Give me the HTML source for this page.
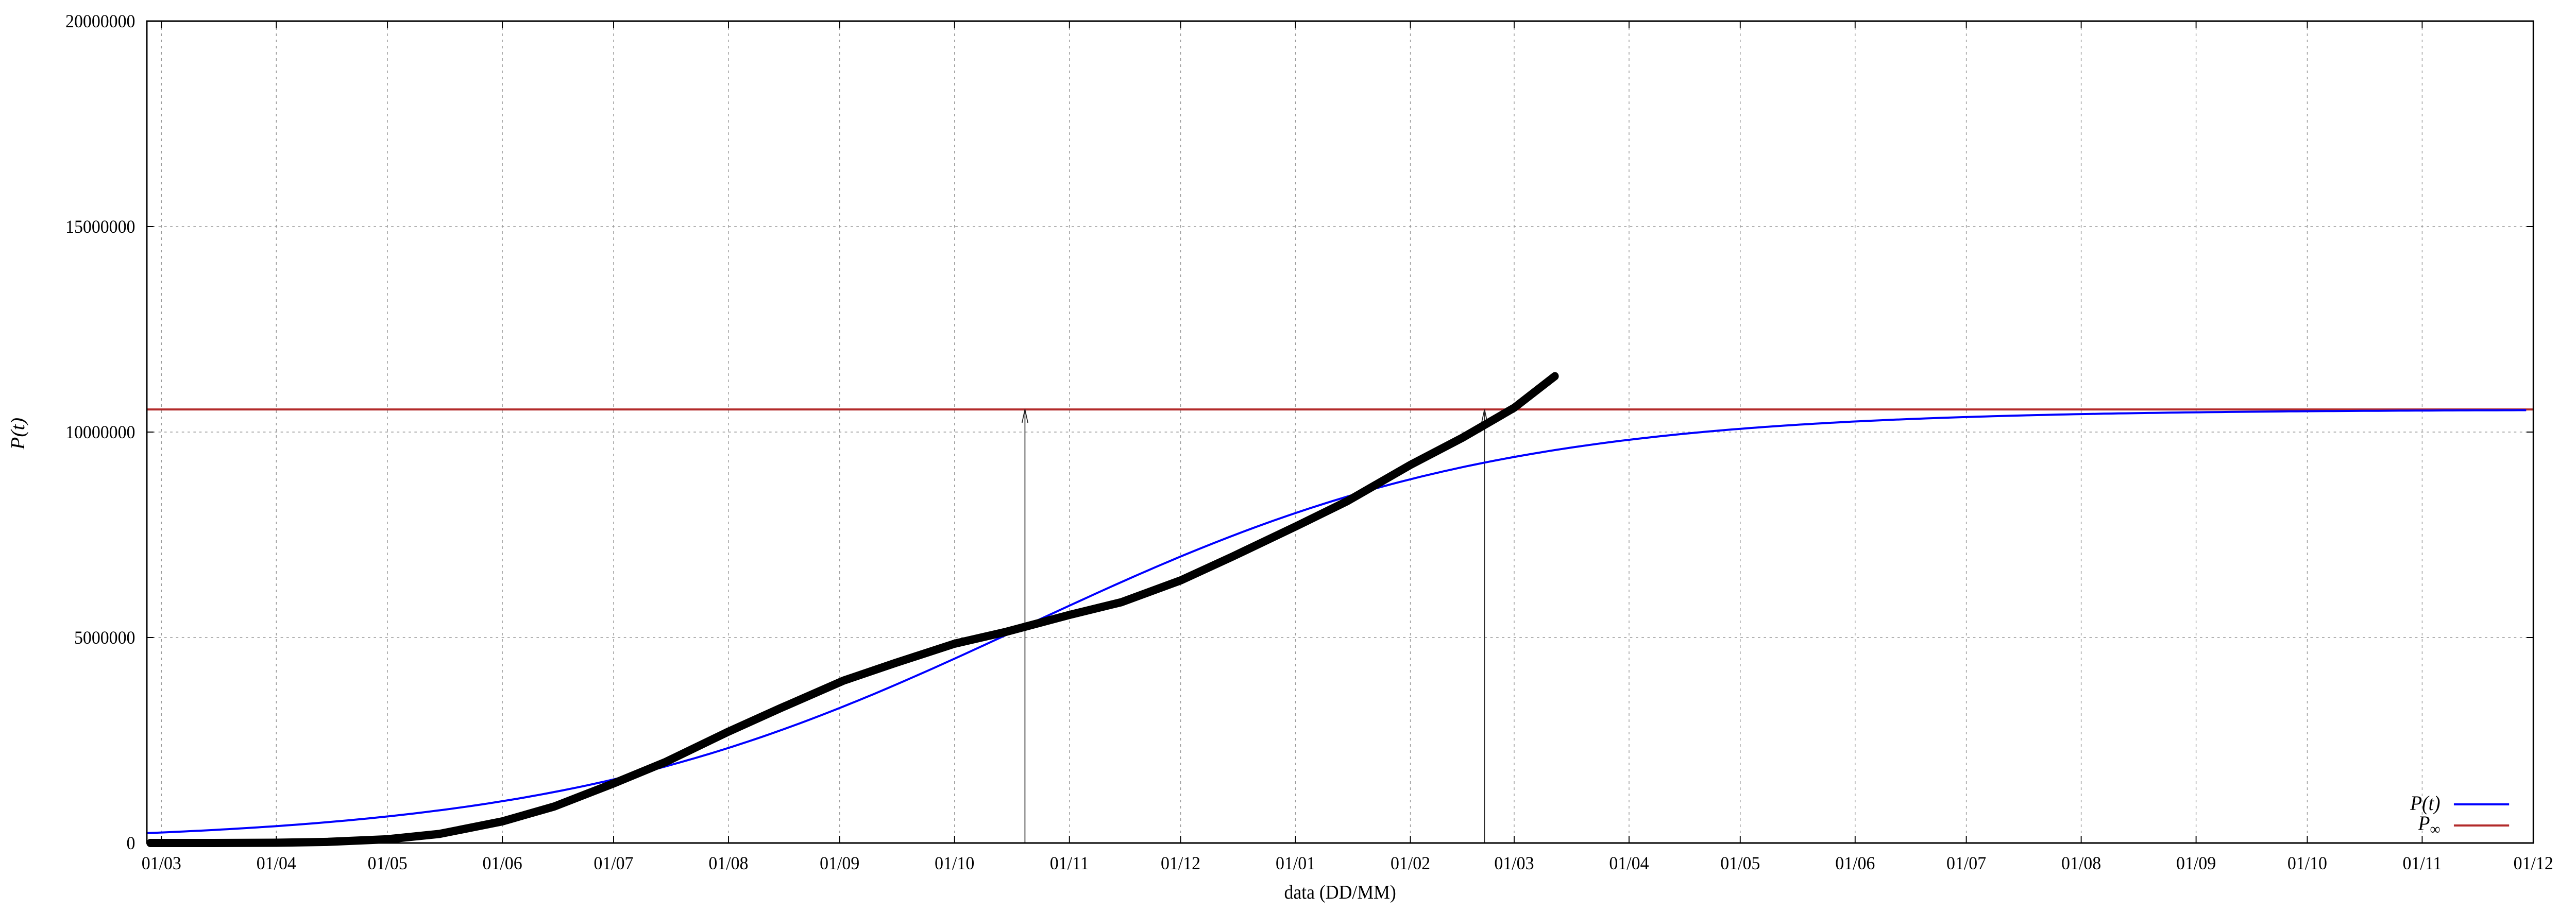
<!DOCTYPE html>
<html><head><meta charset="utf-8"><style>
html,body{margin:0;padding:0;background:#fff;overflow:hidden;width:100%;height:100%;}
svg{display:block;font-family:"Liberation Serif",serif;width:100vw;height:100vh;}
</style></head><body>
<svg id="chart" viewBox="0 0 5315 1771" preserveAspectRatio="none"></svg>
<script>
// data: days since 01/03/2020, cumulative cases
const obsDays = [-3,14,31,45,61,75,92,106,122,136,153,167,184,198,214,228,245,259,275,289,306,320,337,351,365,376];
const obsValues = [0,200,6800,28000,92000,220000,526000,888000,1450000,1970000,2710000,3280000,3950000,4380000,4850000,5140000,5550000,5860000,6390000,6970000,7700000,8320000,9200000,9860000,10590000,11360000];
const pInf = 10550000;
const rate = 0.01587;
const tInflect = 233;
const arrowDays = [233, 357];
const xTickDays = [0,31,61,92,122,153,183,214,245,275,306,337,365,396,426,457,487,518,549,579,610,640];
const xTickLabels = ["01/03","01/04","01/05","01/06","01/07","01/08","01/09","01/10","01/11","01/12","01/01","01/02","01/03","01/04","01/05","01/06","01/07","01/08","01/09","01/10","01/11","01/12"];
const yTicks = [0,5000000,10000000,15000000,20000000];

const L=303,R=5227,T=41,B=1637;
const xMin=-3.93,xMax=640,yMin=0,yMax=20000000;
const X=d=>L+(d-xMin)/(xMax-xMin)*(R-L);
const Y=v=>B-(v-yMin)/(yMax-yMin)*(B-T);
const svg=document.getElementById('chart');
const NS='http://www.w3.org/2000/svg';
function mk(tag,attrs,parent){const e=document.createElementNS(NS,tag);for(const k in attrs)e.setAttribute(k,attrs[k]);(parent||svg).appendChild(e);return e;}

// grid
const grid=mk('g',{});


xTickDays.forEach(d=>{const x=X(d);
  const g=mk('line',{x1:x,x2:x,y1:T,y2:B,stroke:'#999','stroke-width':1.5,'stroke-dasharray':'5,7'},grid);
  
  
});
yTicks.forEach(v=>{const y=Y(v);
  const g=mk('line',{x1:L,x2:R,y1:y,y2:y,stroke:'#999','stroke-width':1.5,'stroke-dasharray':'5,7'},grid);
  
  
});

// ticks and labels
xTickDays.forEach((d,i)=>{const x=X(d);
  mk('line',{x1:x,x2:x,y1:B,y2:B-14,stroke:'#000','stroke-width':2});
  mk('line',{x1:x,x2:x,y1:T,y2:T+14,stroke:'#000','stroke-width':2});
  const t=mk('text',{x:x,y:1688,'text-anchor':'middle','font-size':36,fill:'#000'});
  t.textContent=xTickLabels[i];
  
  
});
yTicks.forEach(v=>{const y=Y(v);
  mk('line',{x1:L,x2:L+14,y1:y,y2:y,stroke:'#000','stroke-width':2});
  mk('line',{x1:R,x2:R-14,y1:y,y2:y,stroke:'#000','stroke-width':2});
  const t=mk('text',{x:279,y:y+12,'text-anchor':'end','font-size':36,fill:'#000'});
  t.textContent=String(v);
  
  
});

// P infinity line
const red=mk('line',{x1:L,x2:R,y1:Y(pInf),y2:Y(pInf),stroke:'#b22a2a','stroke-width':4});



// arrows
arrowDays.forEach(d=>{
  const x=X(d), y0=B, y1=Y(pInf);
  const g=mk('g',{stroke:'#222','stroke-width':1.8,fill:'none'});
  
  
  mk('line',{x1:x,x2:x,y1:y0,y2:y1},g);
  mk('polyline',{points:`${x-6},${y1+26} ${x},${y1} ${x+6},${y1+26}`},g);
});

// logistic model curve
let pts=[];
for(let d=xMin; d<=xMax; d+=2){const v=pInf/(1+Math.exp(-rate*(d-tInflect)));pts.push(X(d).toFixed(1)+','+Y(v).toFixed(1));}
const blue=mk('polyline',{points:pts.join(' '),fill:'none',stroke:'#0000ff','stroke-width':4});



// observed data (thick black dots)
const obs=mk('polyline',{points:obsDays.map((d,i)=>X(d).toFixed(1)+','+Y(obsValues[i]).toFixed(1)).join(' '),fill:'none',stroke:'#000','stroke-width':16,'stroke-linecap':'round','stroke-linejoin':'round'});



// frame
const frame=mk('rect',{x:L,y:T,width:R-L,height:B-T,fill:'none',stroke:'#000','stroke-width':3});



// axis titles
const xt=mk('text',{x:2765,y:1745,'text-anchor':'middle','font-size':38,fill:'#000'});
xt.textContent='data (DD/MM)';


const yt=mk('text',{x:0,y:0,'text-anchor':'middle','font-size':40,'font-style':'italic',fill:'#000',transform:'translate(50,842) rotate(-90)'});
yt.textContent='P(t)';



// legend
const lg=mk('g',{});


const l1=mk('text',{x:5035,y:1573,'text-anchor':'end','font-size':40,'font-style':'italic',fill:'#000'},lg);
l1.textContent='P(t)';


mk('line',{x1:5063,x2:5177,y1:1562,y2:1562,stroke:'#0000ff','stroke-width':4},lg);
const l2=mk('text',{x:5035,y:1612,'text-anchor':'end','font-size':40,'font-style':'italic',fill:'#000'},lg);
l2.innerHTML='P<tspan font-size="30" dy="8" font-style="normal">∞</tspan>';


mk('line',{x1:5063,x2:5177,y1:1603,y2:1603,stroke:'#b22a2a','stroke-width':4},lg);
</script>
</body></html>
